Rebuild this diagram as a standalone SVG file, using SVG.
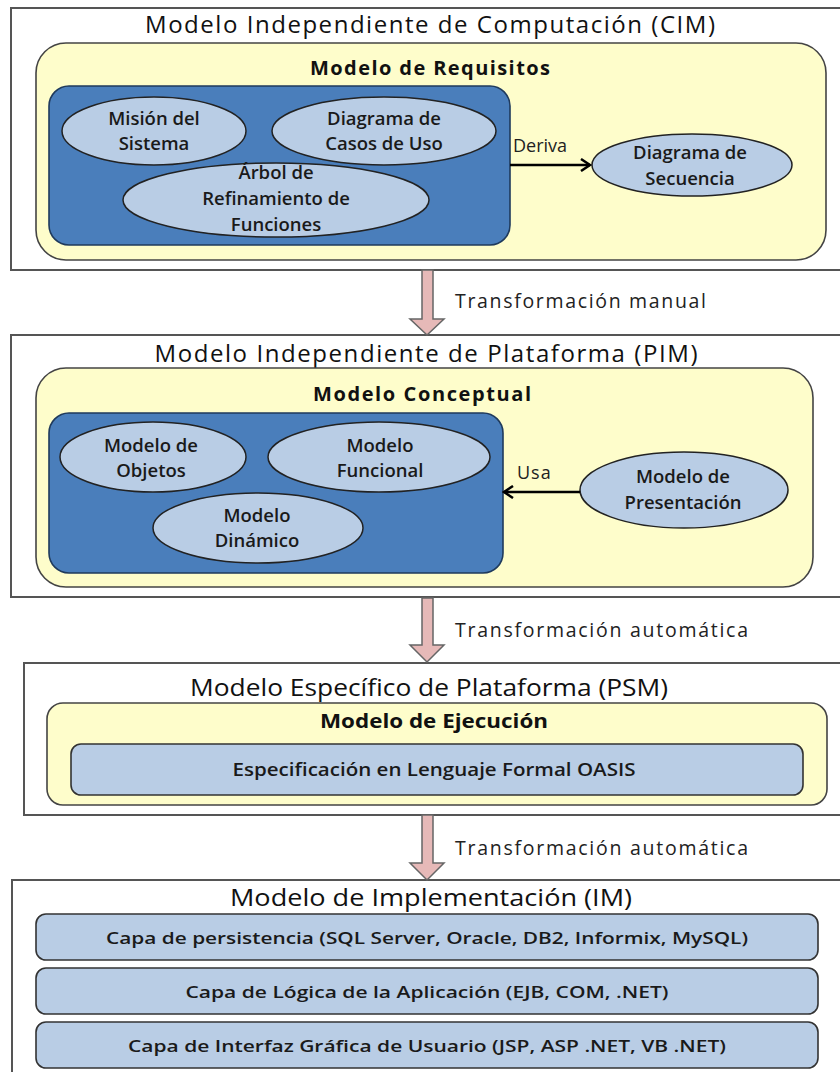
<svg xmlns="http://www.w3.org/2000/svg" width="840" height="1072" viewBox="0 0 840 1072">
  <defs>
    <style>
      .frame { fill: #ffffff; stroke: #555555; stroke-width: 2; }
      .model { fill: #fefdcb; stroke: #444444; stroke-width: 1.6; }
      .group { fill: #4a7ebb; stroke: #1f3a5c; stroke-width: 1.6; }
      .node { fill: #b9cde5; stroke: #222222; stroke-width: 1.5; }
      .layer { fill: #b9cde5; stroke: #333333; stroke-width: 1.6; }
      .title { font-family: "Open Sans", "Liberation Sans", sans-serif; font-size: 24px; fill: #111111; text-anchor: middle; }
      .head { font-family: "Open Sans", "Liberation Sans", sans-serif; font-size: 20px; font-weight: bold; fill: #111111; text-anchor: middle; }
      .lbl { font-family: "Open Sans", "Liberation Sans", sans-serif; font-size: 18.5px; font-weight: 600; fill: #1a1a1a; text-anchor: middle; }
      .row { font-family: "Open Sans", "Liberation Sans", sans-serif; font-size: 17px; font-weight: 600; fill: #1a1a1a; text-anchor: middle; }
      .edge { font-family: "Open Sans", "Liberation Sans", sans-serif; font-size: 18px; fill: #222222; }
      .step { font-family: "Open Sans", "Liberation Sans", sans-serif; font-size: 19.5px; fill: #222222; }
      .flow { fill: #e6b9b8; stroke: #666666; stroke-width: 1.5; }
      .link { fill: none; stroke: #000000; stroke-width: 2.5; }
    </style>
    <marker id="open" markerWidth="14" markerHeight="14" refX="11" refY="7" orient="auto" markerUnits="userSpaceOnUse">
      <path d="M2,1 L11,7 L2,13" fill="none" stroke="#000000" stroke-width="2.5"/>
    </marker>
  </defs>

  <!-- CIM -->
  <g id="cim">
    <rect class="frame" x="11" y="8" width="840" height="262"/>
    <text class="title" x="430" y="33" textLength="570">Modelo Independiente de Computación (CIM)</text>
    <rect class="model" x="36" y="43" width="790" height="217" rx="30"/>
    <text class="head" x="430" y="75" textLength="240">Modelo de Requisitos</text>
    <rect class="group" x="49" y="86" width="461" height="159" rx="20"/>
  </g>
  <g id="mision">
    <ellipse class="node" cx="154" cy="131" rx="92" ry="34"/>
    <text class="lbl" x="154" y="125">Misión del</text>
    <text class="lbl" x="154" y="150">Sistema</text>
  </g>
  <g id="casos-uso">
    <ellipse class="node" cx="384" cy="131" rx="112" ry="34"/>
    <text class="lbl" x="384" y="125">Diagrama de</text>
    <text class="lbl" x="384" y="150">Casos de Uso</text>
  </g>
  <g id="arbol">
    <ellipse class="node" cx="276" cy="200" rx="153" ry="37"/>
    <text class="lbl" x="276" y="179">Árbol de</text>
    <text class="lbl" x="276" y="205">Refinamiento de</text>
    <text class="lbl" x="276" y="231">Funciones</text>
  </g>
  <g id="secuencia">
    <ellipse class="node" cx="692" cy="165" rx="100" ry="31"/>
    <text class="lbl" x="690" y="159">Diagrama de</text>
    <text class="lbl" x="690" y="185">Secuencia</text>
  </g>

  <!-- PIM -->
  <g id="pim">
    <rect class="frame" x="11" y="335" width="840" height="262"/>
    <text class="title" x="426" y="362" textLength="543">Modelo Independiente de Plataforma (PIM)</text>
    <rect class="model" x="36" y="368" width="777" height="219" rx="30"/>
    <text class="head" x="422" y="401" textLength="218">Modelo Conceptual</text>
    <rect class="group" x="49" y="413" width="454" height="160" rx="20"/>
  </g>
  <g id="objetos">
    <ellipse class="node" cx="153" cy="457" rx="93" ry="35"/>
    <text class="lbl" x="151" y="452">Modelo de</text>
    <text class="lbl" x="151" y="477">Objetos</text>
  </g>
  <g id="funcional">
    <ellipse class="node" cx="379" cy="457" rx="111" ry="35"/>
    <text class="lbl" x="380" y="452">Modelo</text>
    <text class="lbl" x="380" y="477">Funcional</text>
  </g>
  <g id="dinamico">
    <ellipse class="node" cx="258" cy="528" rx="105" ry="35"/>
    <text class="lbl" x="257" y="522">Modelo</text>
    <text class="lbl" x="257" y="547">Dinámico</text>
  </g>
  <g id="presentacion">
    <ellipse class="node" cx="684" cy="490" rx="104" ry="38"/>
    <text class="lbl" x="683" y="483">Modelo de</text>
    <text class="lbl" x="683" y="509">Presentación</text>
  </g>

  <!-- PSM -->
  <g id="psm">
    <rect class="frame" x="24" y="663" width="830" height="152"/>
    <text class="title" x="429" y="696" textLength="478" lengthAdjust="spacingAndGlyphs">Modelo Específico de Plataforma (PSM)</text>
    <rect class="model" x="47" y="703" width="780" height="102" rx="16"/>
    <text class="head" x="434" y="728" textLength="228" lengthAdjust="spacingAndGlyphs">Modelo de Ejecución</text>
  </g>
  <g id="oasis">
    <rect class="layer" x="71" y="744" width="732" height="51" rx="10"/>
    <text class="lbl" x="434" y="776" textLength="403" lengthAdjust="spacingAndGlyphs">Especificación en Lenguaje Formal OASIS</text>
  </g>

  <!-- IM -->
  <g id="im">
    <rect class="frame" x="12" y="880" width="840" height="200"/>
    <text class="title" x="431" y="906" textLength="402" lengthAdjust="spacingAndGlyphs">Modelo de Implementación (IM)</text>
  </g>
  <g id="persistencia">
    <rect class="layer" x="36" y="914" width="782" height="46" rx="10"/>
    <text class="row" x="427" y="944" textLength="642" lengthAdjust="spacingAndGlyphs">Capa de persistencia (SQL Server, Oracle, DB2, Informix, MySQL)</text>
  </g>
  <g id="logica">
    <rect class="layer" x="36" y="968" width="782" height="46" rx="10"/>
    <text class="row" x="427" y="998" textLength="483" lengthAdjust="spacingAndGlyphs">Capa de Lógica de la Aplicación (EJB, COM, .NET)</text>
  </g>
  <g id="interfaz">
    <rect class="layer" x="36" y="1022" width="782" height="46" rx="10"/>
    <text class="row" x="427" y="1052" textLength="598" lengthAdjust="spacingAndGlyphs">Capa de Interfaz Gráfica de Usuario (JSP, ASP .NET, VB .NET)</text>
  </g>

  <!-- connectors -->
  <g id="connectors">
    <line class="link" x1="510" y1="165" x2="590" y2="165" marker-end="url(#open)"/>
    <text class="edge" x="513" y="152">Deriva</text>
    <line class="link" x1="580" y1="492" x2="504" y2="492" marker-end="url(#open)"/>
    <text class="edge" x="517" y="479" letter-spacing="1">Usa</text>

    <path class="flow" d="M422,270 L433,270 L433,319 L444,319 L427,335 L410,319 L422,319 Z"/>
    <text class="step" x="455" y="308" textLength="251">Transformación manual</text>
    <path class="flow" d="M422,598 L433,598 L433,645 L444,645 L427,662 L410,645 L422,645 Z"/>
    <text class="step" x="455" y="637" textLength="293">Transformación automática</text>
    <path class="flow" d="M422,815 L433,815 L433,863 L444,863 L427,880 L410,863 L422,863 Z"/>
    <text class="step" x="455" y="855" textLength="293">Transformación automática</text>
  </g>
</svg>
